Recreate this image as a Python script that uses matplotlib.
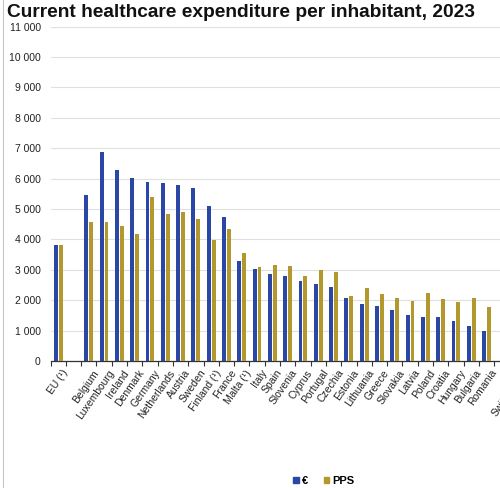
"""Current healthcare expenditure per inhabitant, 2023 (EUR and PPS)."""
import matplotlib

matplotlib.use("Agg")
import matplotlib.pyplot as plt
import matplotlib.transforms as mtransforms
import numpy as np
from matplotlib.lines import Line2D
from matplotlib.patches import Patch
from matplotlib.ticker import FuncFormatter, MultipleLocator

plt.rcParams["font.family"] = ["Liberation Sans", "DejaVu Sans"]

# empty strings are the gaps between country groups
countries = [
    "EU (¹)", "", "Belgium", "Luxembourg", "Ireland", "Denmark", "Germany",
    "Netherlands", "Austria", "Sweden", "Finland (¹)", "France", "Malta (¹)",
    "Italy", "Spain", "Slovenia", "Cyprus", "Portugal", "Czechia", "Estonia",
    "Lithuania", "Greece", "Slovakia", "Latvia", "Poland", "Croatia",
    "Hungary", "Bulgaria", "Romania", "", "Switzerland", "Liechtenstein",
]
nan = np.nan
euro = [
    3830, nan, 5450, 6875, 6290, 6010, 5890, 5855, 5780, 5700, 5100, 4740,
    3290, 3030, 2850, 2795, 2640, 2530, 2445, 2080, 1885, 1820, 1665, 1510,
    1445, 1445, 1305, 1150, 985, nan, nan, nan,
]
pps = [
    3830, nan, 4560, 4560, 4450, 4170, 5405, 4845, 4890, 4670, 3990, 4350,
    3540, 3075, 3145, 3125, 2795, 2995, 2930, 2150, 2400, 2190, 2070, 1975,
    2235, 2040, 1930, 2085, 1775, nan, nan, nan,
]

BLUE = "#2a47a6"
GOLD = "#b3982d"

fig = plt.figure(figsize=(5.0, 4.88), dpi=100)
n = len(countries)
px_per_cat = 15.3
ax = fig.add_axes([50.5 / 500, 127 / 488, n * px_per_cat / 500, 334.5 / 488])

x = np.arange(n)
w = 0.25
ax.bar(x - 0.16, euro, width=w, color=BLUE, zorder=3)
ax.bar(x + 0.16, pps, width=w, color=GOLD, zorder=3)

ax.set_xlim(-0.5, n - 0.5)
ax.set_ylim(0, 11000)
ax.yaxis.set_major_locator(MultipleLocator(1000))
ax.yaxis.set_major_formatter(
    FuncFormatter(lambda v, _: f"{int(v):,}".replace(",", " "))
)
ax.grid(axis="y", color="#e0e0e0", linewidth=0.8, zorder=0)

# slanted category labels, nudged a little right/down as in the original
ax.set_xticks(np.arange(-0.5, n), minor=True)
ax.set_xticks([])
shift = mtransforms.ScaledTranslation(0.035, -0.07, fig.dpi_scale_trans)
for xi, name in zip(x, countries):
    ax.text(xi, 0, name, transform=ax.get_xaxis_transform() + shift,
            rotation=55, ha="right", va="top", rotation_mode="anchor",
            fontsize=7.5, color="#222222", clip_on=False)
ax.tick_params(axis="x", which="minor", length=3.5, width=0.8, color="#333333")
ax.tick_params(axis="y", length=0, pad=7, labelsize=7.5, labelcolor="#222222")

for side in ["top", "right", "left"]:
    ax.spines[side].set_visible(False)
ax.spines["bottom"].set_color("#333333")
ax.spines["bottom"].set_linewidth(0.9)

fig.text(7 / 500, 1 - 17 / 488, "Current healthcare expenditure per inhabitant, 2023",
         fontsize=13.8, fontweight="bold", color="#111111")

# thin frame line on the left edge
fig.add_artist(Line2D([2.5 / 500, 2.5 / 500], [0, 1], color="#c8c8c8", linewidth=0.8))

handles = [Patch(color=BLUE, label="€"), Patch(color=GOLD, label="PPS")]
fig.legend(handles=handles, loc="center", bbox_to_anchor=(324 / 500, 1 - 481 / 488),
           ncol=2, frameon=False, handlelength=0.5, handleheight=0.5,
           handletextpad=0.3, columnspacing=1.4,
           prop={"size": 8, "weight": "bold"})

fig.savefig("out.png", dpi=100)
